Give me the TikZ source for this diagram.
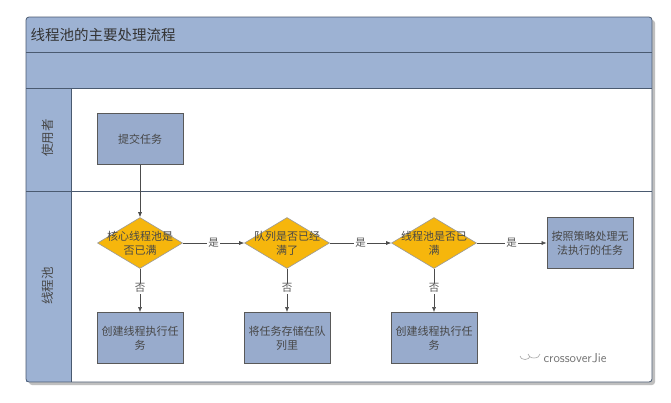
\documentclass[tikz,border=0pt]{standalone}
\usepackage{fontspec}
\newfontfamily\cjk{Noto Sans CJK SC}
\usetikzlibrary{shapes.geometric,arrows.meta}
\definecolor{band}{HTML}{9DB2D3}
\definecolor{boxfill}{HTML}{98ABCC}
\definecolor{gold}{HTML}{F6B60C}
\definecolor{frameline}{HTML}{4A5A70}
\tikzset{
  lane/.style={draw=frameline, line width=0.8pt},
  procbox/.style={draw=black!65, fill=boxfill, line width=0.8pt, minimum width=86pt, minimum height=51pt, text width=82pt, inner xsep=2pt, align=center, font=\cjk\fontsize{11}{14}\selectfont, text=black!72},
  decision/.style={diamond, aspect=1.67, draw=black!40, fill=gold, line width=0.6pt, minimum width=85pt, minimum height=51pt, inner sep=0pt},
  dtext/.style={align=center, font=\cjk\fontsize{11}{14}\selectfont, text=black!72, inner sep=0pt},
  flow/.style={draw=black!70, line width=0.6pt, -{Latex[length=5pt,width=4pt]}},
  lbl/.style={fill=white, inner sep=1pt, font=\cjk\fontsize{10.5}{12}\selectfont, text=black!65}
}
\begin{document}
\begin{tikzpicture}[x=1pt,y=-1pt]
\useasboundingbox (0,0) rectangle (671,402);
\fill[white] (0,0) rectangle (671,402);
% shadow
\fill[black!25, rounded corners=3pt] (29,20) rectangle (655,385);
% frame
\fill[white, rounded corners=3pt] (26,17) rectangle (652,382);
\fill[band, rounded corners=3pt] (26,17) rectangle (652,60);
\fill[band] (26,50) rectangle (652,88);
\fill[band] (26,88) rectangle (71,382);
\draw[lane] (26,52) -- (652,52);
\draw[lane] (26,88) -- (652,88);
\draw[lane] (71,88) -- (71,382);
\draw[lane] (26,191) -- (652,191);
\draw[lane, rounded corners=3pt] (26,17) rectangle (652,382);
\node[anchor=west, font=\cjk\fontsize{14.5}{16}\selectfont, text=black!80] (title) at (27,35) {线程池的主要处理流程};
\node[rotate=90, font=\cjk\fontsize{12.5}{14}\selectfont, text=black!72] (lane1) at (48,138) {使用者};
\node[rotate=90, font=\cjk\fontsize{12.5}{14}\selectfont, text=black!72] (lane2) at (48,286) {线程池};
% nodes
\node[procbox] (submit) at (140,139) {提交任务};
\node[decision] (d1) at (140,243) {};
\node[dtext] (t1) at (d1.center) {核心线程池是\\否已满};
\node[decision] (d2) at (287,243) {};
\node[dtext] (t2) at (d2.center) {队列是否已经\\满了};
\node[decision] (d3) at (434,243) {};
\node[dtext] (t3) at (d3.center) {线程池是否已\\满};
\node[procbox] (reject) at (590,243) {按照策略处理无\\法执行的任务};
\node[procbox] (b1) at (140,338) {创建线程执行任\\务};
\node[procbox] (b2) at (287,338) {将任务存储在队\\列里};
\node[procbox] (b3) at (434,338) {创建线程执行任\\务};
% edges
\draw[flow] (submit) -- (d1);
\draw[flow] (d1) -- node[lbl] {是} (d2);
\draw[flow] (d2) -- node[lbl] {是} (d3);
\draw[flow] (d3) -- node[lbl] {是} (reject);
\draw[flow] (d1) -- node[lbl, pos=0.45] {否} (b1);
\draw[flow] (d2) -- node[lbl, pos=0.45] {否} (b2);
\draw[flow] (d3) -- node[lbl, pos=0.45] {否} (b3);
% watermark
\node[anchor=west, font=\fontsize{13}{15}\selectfont\sffamily, text=black!55] (wm) at (540,358) {crossoverJie};
\draw[black!35, line width=0.6pt] (528,354) arc (180:360:6pt and 4pt);
\draw[black!35, line width=0.6pt] (520,356) arc (180:360:5pt and 3.5pt);
\end{tikzpicture}
\end{document}
